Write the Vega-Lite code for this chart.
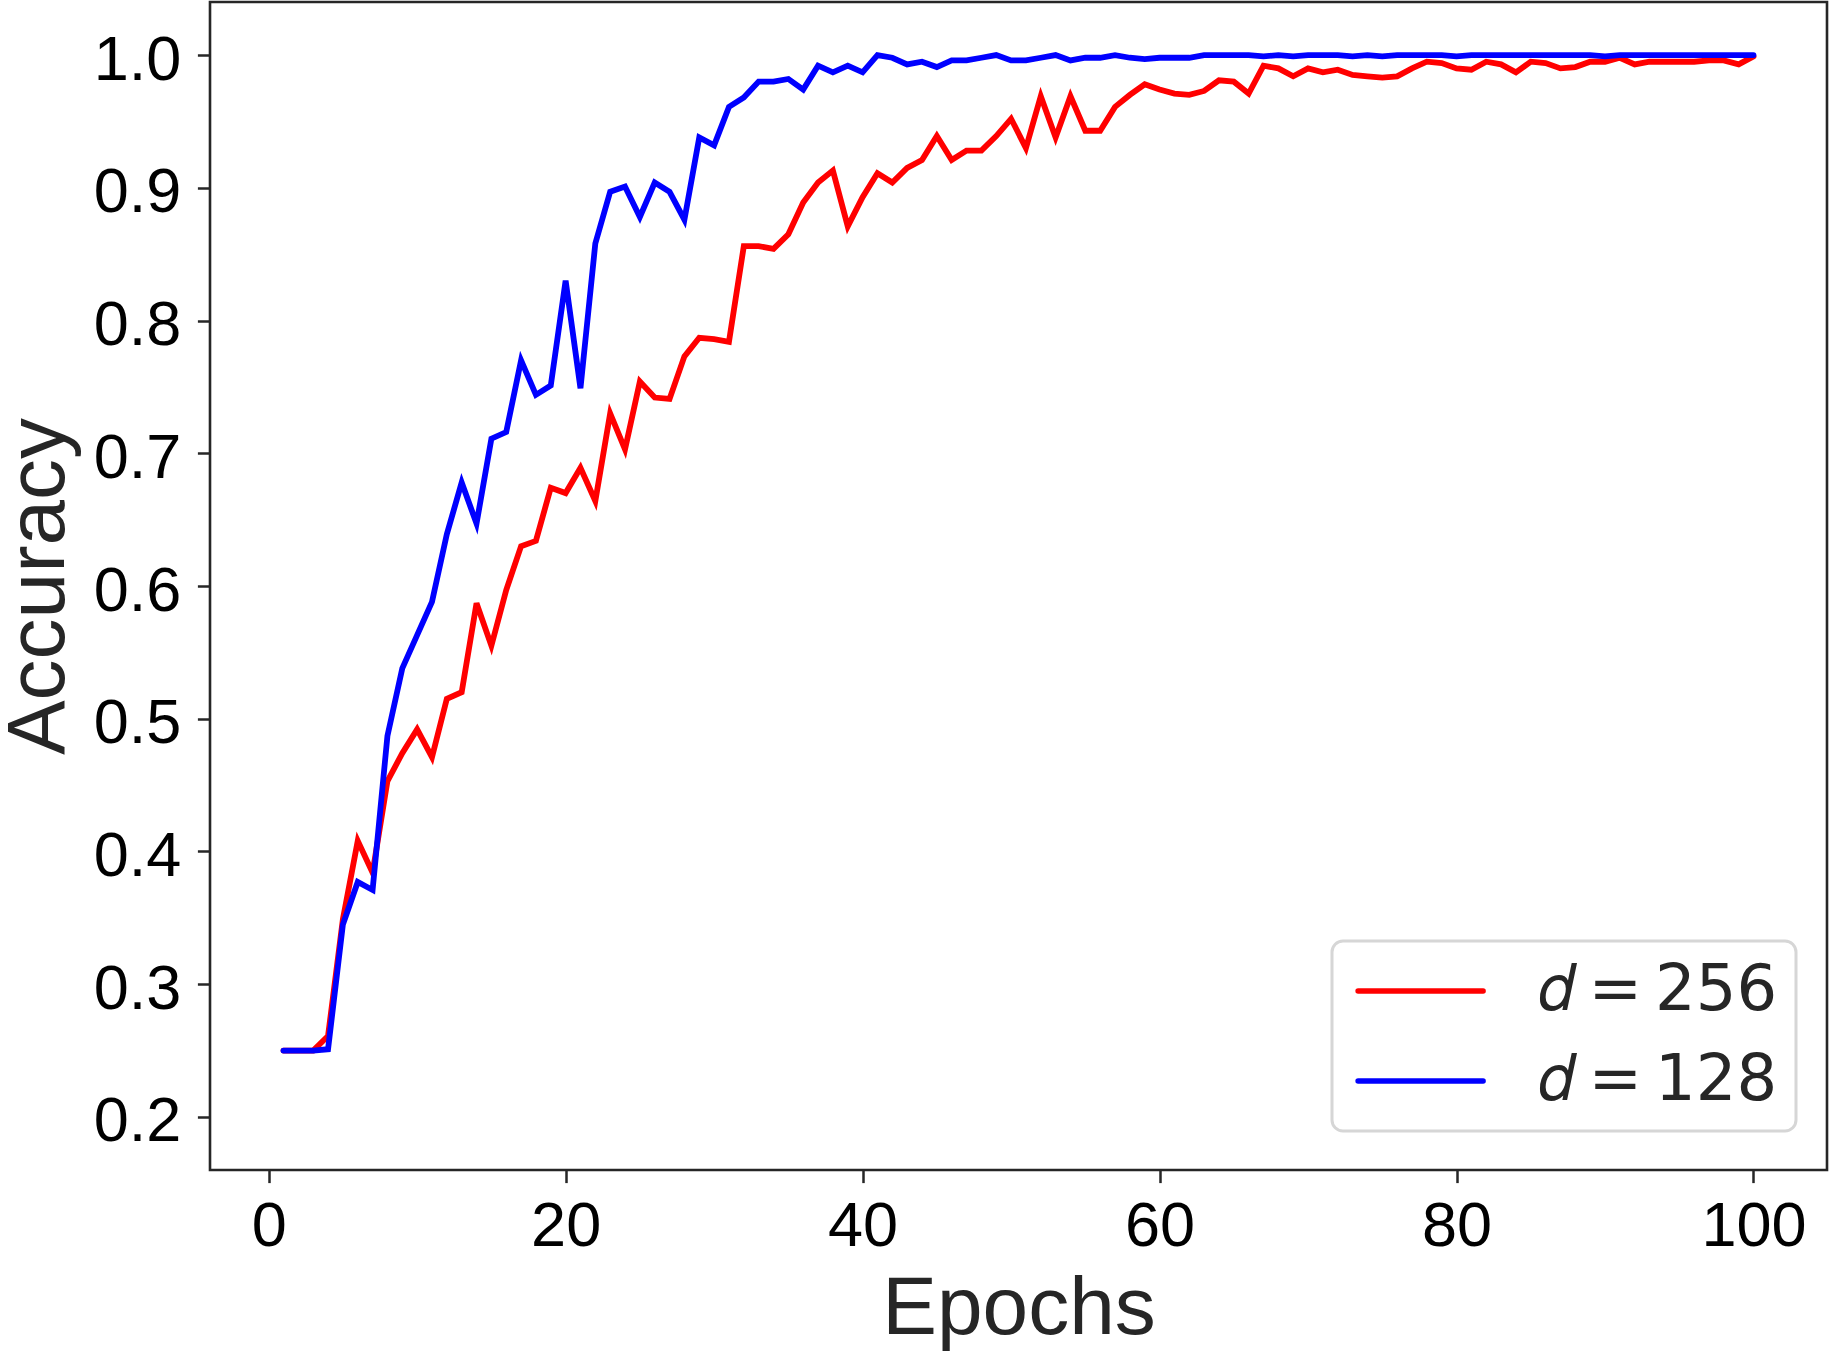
{
  "$schema": "https://vega.github.io/schema/vega-lite/v6.json",
  "width": 1617,
  "height": 1168,
  "autosize": {"type": "none"},
  "padding": {"left": 210, "top": 2, "right": 4, "bottom": 181},
  "background": "#ffffff",
  "data": {
    "values": [
      {"epoch": 1, "model": "𝑑\u2009=\u2009256", "accuracy": 0.250},
      {"epoch": 2, "model": "𝑑\u2009=\u2009256", "accuracy": 0.250},
      {"epoch": 3, "model": "𝑑\u2009=\u2009256", "accuracy": 0.250},
      {"epoch": 4, "model": "𝑑\u2009=\u2009256", "accuracy": 0.261},
      {"epoch": 5, "model": "𝑑\u2009=\u2009256", "accuracy": 0.349},
      {"epoch": 6, "model": "𝑑\u2009=\u2009256", "accuracy": 0.408},
      {"epoch": 7, "model": "𝑑\u2009=\u2009256", "accuracy": 0.384},
      {"epoch": 8, "model": "𝑑\u2009=\u2009256", "accuracy": 0.453},
      {"epoch": 9, "model": "𝑑\u2009=\u2009256", "accuracy": 0.474},
      {"epoch": 10, "model": "𝑑\u2009=\u2009256", "accuracy": 0.492},
      {"epoch": 11, "model": "𝑑\u2009=\u2009256", "accuracy": 0.471},
      {"epoch": 12, "model": "𝑑\u2009=\u2009256", "accuracy": 0.515},
      {"epoch": 13, "model": "𝑑\u2009=\u2009256", "accuracy": 0.520},
      {"epoch": 14, "model": "𝑑\u2009=\u2009256", "accuracy": 0.587},
      {"epoch": 15, "model": "𝑑\u2009=\u2009256", "accuracy": 0.555},
      {"epoch": 16, "model": "𝑑\u2009=\u2009256", "accuracy": 0.597},
      {"epoch": 17, "model": "𝑑\u2009=\u2009256", "accuracy": 0.630},
      {"epoch": 18, "model": "𝑑\u2009=\u2009256", "accuracy": 0.634},
      {"epoch": 19, "model": "𝑑\u2009=\u2009256", "accuracy": 0.674},
      {"epoch": 20, "model": "𝑑\u2009=\u2009256", "accuracy": 0.670},
      {"epoch": 21, "model": "𝑑\u2009=\u2009256", "accuracy": 0.689},
      {"epoch": 22, "model": "𝑑\u2009=\u2009256", "accuracy": 0.664},
      {"epoch": 23, "model": "𝑑\u2009=\u2009256", "accuracy": 0.730},
      {"epoch": 24, "model": "𝑑\u2009=\u2009256", "accuracy": 0.703},
      {"epoch": 25, "model": "𝑑\u2009=\u2009256", "accuracy": 0.754},
      {"epoch": 26, "model": "𝑑\u2009=\u2009256", "accuracy": 0.742},
      {"epoch": 27, "model": "𝑑\u2009=\u2009256", "accuracy": 0.741},
      {"epoch": 28, "model": "𝑑\u2009=\u2009256", "accuracy": 0.773},
      {"epoch": 29, "model": "𝑑\u2009=\u2009256", "accuracy": 0.787},
      {"epoch": 30, "model": "𝑑\u2009=\u2009256", "accuracy": 0.786},
      {"epoch": 31, "model": "𝑑\u2009=\u2009256", "accuracy": 0.784},
      {"epoch": 32, "model": "𝑑\u2009=\u2009256", "accuracy": 0.856},
      {"epoch": 33, "model": "𝑑\u2009=\u2009256", "accuracy": 0.856},
      {"epoch": 34, "model": "𝑑\u2009=\u2009256", "accuracy": 0.854},
      {"epoch": 35, "model": "𝑑\u2009=\u2009256", "accuracy": 0.865},
      {"epoch": 36, "model": "𝑑\u2009=\u2009256", "accuracy": 0.889},
      {"epoch": 37, "model": "𝑑\u2009=\u2009256", "accuracy": 0.904},
      {"epoch": 38, "model": "𝑑\u2009=\u2009256", "accuracy": 0.913},
      {"epoch": 39, "model": "𝑑\u2009=\u2009256", "accuracy": 0.871},
      {"epoch": 40, "model": "𝑑\u2009=\u2009256", "accuracy": 0.893},
      {"epoch": 41, "model": "𝑑\u2009=\u2009256", "accuracy": 0.911},
      {"epoch": 42, "model": "𝑑\u2009=\u2009256", "accuracy": 0.904},
      {"epoch": 43, "model": "𝑑\u2009=\u2009256", "accuracy": 0.915},
      {"epoch": 44, "model": "𝑑\u2009=\u2009256", "accuracy": 0.921},
      {"epoch": 45, "model": "𝑑\u2009=\u2009256", "accuracy": 0.939},
      {"epoch": 46, "model": "𝑑\u2009=\u2009256", "accuracy": 0.921},
      {"epoch": 47, "model": "𝑑\u2009=\u2009256", "accuracy": 0.928},
      {"epoch": 48, "model": "𝑑\u2009=\u2009256", "accuracy": 0.928},
      {"epoch": 49, "model": "𝑑\u2009=\u2009256", "accuracy": 0.939},
      {"epoch": 50, "model": "𝑑\u2009=\u2009256", "accuracy": 0.952},
      {"epoch": 51, "model": "𝑑\u2009=\u2009256", "accuracy": 0.930},
      {"epoch": 52, "model": "𝑑\u2009=\u2009256", "accuracy": 0.969},
      {"epoch": 53, "model": "𝑑\u2009=\u2009256", "accuracy": 0.938},
      {"epoch": 54, "model": "𝑑\u2009=\u2009256", "accuracy": 0.969},
      {"epoch": 55, "model": "𝑑\u2009=\u2009256", "accuracy": 0.943},
      {"epoch": 56, "model": "𝑑\u2009=\u2009256", "accuracy": 0.943},
      {"epoch": 57, "model": "𝑑\u2009=\u2009256", "accuracy": 0.961},
      {"epoch": 58, "model": "𝑑\u2009=\u2009256", "accuracy": 0.970},
      {"epoch": 59, "model": "𝑑\u2009=\u2009256", "accuracy": 0.978},
      {"epoch": 60, "model": "𝑑\u2009=\u2009256", "accuracy": 0.974},
      {"epoch": 61, "model": "𝑑\u2009=\u2009256", "accuracy": 0.971},
      {"epoch": 62, "model": "𝑑\u2009=\u2009256", "accuracy": 0.970},
      {"epoch": 63, "model": "𝑑\u2009=\u2009256", "accuracy": 0.973},
      {"epoch": 64, "model": "𝑑\u2009=\u2009256", "accuracy": 0.981},
      {"epoch": 65, "model": "𝑑\u2009=\u2009256", "accuracy": 0.980},
      {"epoch": 66, "model": "𝑑\u2009=\u2009256", "accuracy": 0.971},
      {"epoch": 67, "model": "𝑑\u2009=\u2009256", "accuracy": 0.992},
      {"epoch": 68, "model": "𝑑\u2009=\u2009256", "accuracy": 0.990},
      {"epoch": 69, "model": "𝑑\u2009=\u2009256", "accuracy": 0.984},
      {"epoch": 70, "model": "𝑑\u2009=\u2009256", "accuracy": 0.990},
      {"epoch": 71, "model": "𝑑\u2009=\u2009256", "accuracy": 0.987},
      {"epoch": 72, "model": "𝑑\u2009=\u2009256", "accuracy": 0.989},
      {"epoch": 73, "model": "𝑑\u2009=\u2009256", "accuracy": 0.985},
      {"epoch": 74, "model": "𝑑\u2009=\u2009256", "accuracy": 0.984},
      {"epoch": 75, "model": "𝑑\u2009=\u2009256", "accuracy": 0.983},
      {"epoch": 76, "model": "𝑑\u2009=\u2009256", "accuracy": 0.984},
      {"epoch": 77, "model": "𝑑\u2009=\u2009256", "accuracy": 0.990},
      {"epoch": 78, "model": "𝑑\u2009=\u2009256", "accuracy": 0.995},
      {"epoch": 79, "model": "𝑑\u2009=\u2009256", "accuracy": 0.994},
      {"epoch": 80, "model": "𝑑\u2009=\u2009256", "accuracy": 0.990},
      {"epoch": 81, "model": "𝑑\u2009=\u2009256", "accuracy": 0.989},
      {"epoch": 82, "model": "𝑑\u2009=\u2009256", "accuracy": 0.995},
      {"epoch": 83, "model": "𝑑\u2009=\u2009256", "accuracy": 0.993},
      {"epoch": 84, "model": "𝑑\u2009=\u2009256", "accuracy": 0.987},
      {"epoch": 85, "model": "𝑑\u2009=\u2009256", "accuracy": 0.995},
      {"epoch": 86, "model": "𝑑\u2009=\u2009256", "accuracy": 0.994},
      {"epoch": 87, "model": "𝑑\u2009=\u2009256", "accuracy": 0.990},
      {"epoch": 88, "model": "𝑑\u2009=\u2009256", "accuracy": 0.991},
      {"epoch": 89, "model": "𝑑\u2009=\u2009256", "accuracy": 0.995},
      {"epoch": 90, "model": "𝑑\u2009=\u2009256", "accuracy": 0.995},
      {"epoch": 91, "model": "𝑑\u2009=\u2009256", "accuracy": 0.998},
      {"epoch": 92, "model": "𝑑\u2009=\u2009256", "accuracy": 0.993},
      {"epoch": 93, "model": "𝑑\u2009=\u2009256", "accuracy": 0.995},
      {"epoch": 94, "model": "𝑑\u2009=\u2009256", "accuracy": 0.995},
      {"epoch": 95, "model": "𝑑\u2009=\u2009256", "accuracy": 0.995},
      {"epoch": 96, "model": "𝑑\u2009=\u2009256", "accuracy": 0.995},
      {"epoch": 97, "model": "𝑑\u2009=\u2009256", "accuracy": 0.996},
      {"epoch": 98, "model": "𝑑\u2009=\u2009256", "accuracy": 0.996},
      {"epoch": 99, "model": "𝑑\u2009=\u2009256", "accuracy": 0.993},
      {"epoch": 100, "model": "𝑑\u2009=\u2009256", "accuracy": 0.999},
      {"epoch": 1, "model": "𝑑\u2009=\u2009128", "accuracy": 0.250},
      {"epoch": 2, "model": "𝑑\u2009=\u2009128", "accuracy": 0.250},
      {"epoch": 3, "model": "𝑑\u2009=\u2009128", "accuracy": 0.250},
      {"epoch": 4, "model": "𝑑\u2009=\u2009128", "accuracy": 0.251},
      {"epoch": 5, "model": "𝑑\u2009=\u2009128", "accuracy": 0.345},
      {"epoch": 6, "model": "𝑑\u2009=\u2009128", "accuracy": 0.377},
      {"epoch": 7, "model": "𝑑\u2009=\u2009128", "accuracy": 0.371},
      {"epoch": 8, "model": "𝑑\u2009=\u2009128", "accuracy": 0.487},
      {"epoch": 9, "model": "𝑑\u2009=\u2009128", "accuracy": 0.538},
      {"epoch": 10, "model": "𝑑\u2009=\u2009128", "accuracy": 0.563},
      {"epoch": 11, "model": "𝑑\u2009=\u2009128", "accuracy": 0.588},
      {"epoch": 12, "model": "𝑑\u2009=\u2009128", "accuracy": 0.639},
      {"epoch": 13, "model": "𝑑\u2009=\u2009128", "accuracy": 0.678},
      {"epoch": 14, "model": "𝑑\u2009=\u2009128", "accuracy": 0.647},
      {"epoch": 15, "model": "𝑑\u2009=\u2009128", "accuracy": 0.711},
      {"epoch": 16, "model": "𝑑\u2009=\u2009128", "accuracy": 0.716},
      {"epoch": 17, "model": "𝑑\u2009=\u2009128", "accuracy": 0.770},
      {"epoch": 18, "model": "𝑑\u2009=\u2009128", "accuracy": 0.744},
      {"epoch": 19, "model": "𝑑\u2009=\u2009128", "accuracy": 0.751},
      {"epoch": 20, "model": "𝑑\u2009=\u2009128", "accuracy": 0.830},
      {"epoch": 21, "model": "𝑑\u2009=\u2009128", "accuracy": 0.749},
      {"epoch": 22, "model": "𝑑\u2009=\u2009128", "accuracy": 0.858},
      {"epoch": 23, "model": "𝑑\u2009=\u2009128", "accuracy": 0.897},
      {"epoch": 24, "model": "𝑑\u2009=\u2009128", "accuracy": 0.901},
      {"epoch": 25, "model": "𝑑\u2009=\u2009128", "accuracy": 0.878},
      {"epoch": 26, "model": "𝑑\u2009=\u2009128", "accuracy": 0.904},
      {"epoch": 27, "model": "𝑑\u2009=\u2009128", "accuracy": 0.897},
      {"epoch": 28, "model": "𝑑\u2009=\u2009128", "accuracy": 0.876},
      {"epoch": 29, "model": "𝑑\u2009=\u2009128", "accuracy": 0.938},
      {"epoch": 30, "model": "𝑑\u2009=\u2009128", "accuracy": 0.932},
      {"epoch": 31, "model": "𝑑\u2009=\u2009128", "accuracy": 0.961},
      {"epoch": 32, "model": "𝑑\u2009=\u2009128", "accuracy": 0.968},
      {"epoch": 33, "model": "𝑑\u2009=\u2009128", "accuracy": 0.980},
      {"epoch": 34, "model": "𝑑\u2009=\u2009128", "accuracy": 0.980},
      {"epoch": 35, "model": "𝑑\u2009=\u2009128", "accuracy": 0.982},
      {"epoch": 36, "model": "𝑑\u2009=\u2009128", "accuracy": 0.974},
      {"epoch": 37, "model": "𝑑\u2009=\u2009128", "accuracy": 0.992},
      {"epoch": 38, "model": "𝑑\u2009=\u2009128", "accuracy": 0.987},
      {"epoch": 39, "model": "𝑑\u2009=\u2009128", "accuracy": 0.992},
      {"epoch": 40, "model": "𝑑\u2009=\u2009128", "accuracy": 0.987},
      {"epoch": 41, "model": "𝑑\u2009=\u2009128", "accuracy": 1.000},
      {"epoch": 42, "model": "𝑑\u2009=\u2009128", "accuracy": 0.998},
      {"epoch": 43, "model": "𝑑\u2009=\u2009128", "accuracy": 0.993},
      {"epoch": 44, "model": "𝑑\u2009=\u2009128", "accuracy": 0.995},
      {"epoch": 45, "model": "𝑑\u2009=\u2009128", "accuracy": 0.991},
      {"epoch": 46, "model": "𝑑\u2009=\u2009128", "accuracy": 0.996},
      {"epoch": 47, "model": "𝑑\u2009=\u2009128", "accuracy": 0.996},
      {"epoch": 48, "model": "𝑑\u2009=\u2009128", "accuracy": 0.998},
      {"epoch": 49, "model": "𝑑\u2009=\u2009128", "accuracy": 1.000},
      {"epoch": 50, "model": "𝑑\u2009=\u2009128", "accuracy": 0.996},
      {"epoch": 51, "model": "𝑑\u2009=\u2009128", "accuracy": 0.996},
      {"epoch": 52, "model": "𝑑\u2009=\u2009128", "accuracy": 0.998},
      {"epoch": 53, "model": "𝑑\u2009=\u2009128", "accuracy": 1.000},
      {"epoch": 54, "model": "𝑑\u2009=\u2009128", "accuracy": 0.996},
      {"epoch": 55, "model": "𝑑\u2009=\u2009128", "accuracy": 0.998},
      {"epoch": 56, "model": "𝑑\u2009=\u2009128", "accuracy": 0.998},
      {"epoch": 57, "model": "𝑑\u2009=\u2009128", "accuracy": 1.000},
      {"epoch": 58, "model": "𝑑\u2009=\u2009128", "accuracy": 0.998},
      {"epoch": 59, "model": "𝑑\u2009=\u2009128", "accuracy": 0.997},
      {"epoch": 60, "model": "𝑑\u2009=\u2009128", "accuracy": 0.998},
      {"epoch": 61, "model": "𝑑\u2009=\u2009128", "accuracy": 0.998},
      {"epoch": 62, "model": "𝑑\u2009=\u2009128", "accuracy": 0.998},
      {"epoch": 63, "model": "𝑑\u2009=\u2009128", "accuracy": 1.000},
      {"epoch": 64, "model": "𝑑\u2009=\u2009128", "accuracy": 1.000},
      {"epoch": 65, "model": "𝑑\u2009=\u2009128", "accuracy": 1.000},
      {"epoch": 66, "model": "𝑑\u2009=\u2009128", "accuracy": 1.000},
      {"epoch": 67, "model": "𝑑\u2009=\u2009128", "accuracy": 0.999},
      {"epoch": 68, "model": "𝑑\u2009=\u2009128", "accuracy": 1.000},
      {"epoch": 69, "model": "𝑑\u2009=\u2009128", "accuracy": 0.999},
      {"epoch": 70, "model": "𝑑\u2009=\u2009128", "accuracy": 1.000},
      {"epoch": 71, "model": "𝑑\u2009=\u2009128", "accuracy": 1.000},
      {"epoch": 72, "model": "𝑑\u2009=\u2009128", "accuracy": 1.000},
      {"epoch": 73, "model": "𝑑\u2009=\u2009128", "accuracy": 0.999},
      {"epoch": 74, "model": "𝑑\u2009=\u2009128", "accuracy": 1.000},
      {"epoch": 75, "model": "𝑑\u2009=\u2009128", "accuracy": 0.999},
      {"epoch": 76, "model": "𝑑\u2009=\u2009128", "accuracy": 1.000},
      {"epoch": 77, "model": "𝑑\u2009=\u2009128", "accuracy": 1.000},
      {"epoch": 78, "model": "𝑑\u2009=\u2009128", "accuracy": 1.000},
      {"epoch": 79, "model": "𝑑\u2009=\u2009128", "accuracy": 1.000},
      {"epoch": 80, "model": "𝑑\u2009=\u2009128", "accuracy": 0.999},
      {"epoch": 81, "model": "𝑑\u2009=\u2009128", "accuracy": 1.000},
      {"epoch": 82, "model": "𝑑\u2009=\u2009128", "accuracy": 1.000},
      {"epoch": 83, "model": "𝑑\u2009=\u2009128", "accuracy": 1.000},
      {"epoch": 84, "model": "𝑑\u2009=\u2009128", "accuracy": 1.000},
      {"epoch": 85, "model": "𝑑\u2009=\u2009128", "accuracy": 1.000},
      {"epoch": 86, "model": "𝑑\u2009=\u2009128", "accuracy": 1.000},
      {"epoch": 87, "model": "𝑑\u2009=\u2009128", "accuracy": 1.000},
      {"epoch": 88, "model": "𝑑\u2009=\u2009128", "accuracy": 1.000},
      {"epoch": 89, "model": "𝑑\u2009=\u2009128", "accuracy": 1.000},
      {"epoch": 90, "model": "𝑑\u2009=\u2009128", "accuracy": 0.999},
      {"epoch": 91, "model": "𝑑\u2009=\u2009128", "accuracy": 1.000},
      {"epoch": 92, "model": "𝑑\u2009=\u2009128", "accuracy": 1.000},
      {"epoch": 93, "model": "𝑑\u2009=\u2009128", "accuracy": 1.000},
      {"epoch": 94, "model": "𝑑\u2009=\u2009128", "accuracy": 1.000},
      {"epoch": 95, "model": "𝑑\u2009=\u2009128", "accuracy": 1.000},
      {"epoch": 96, "model": "𝑑\u2009=\u2009128", "accuracy": 1.000},
      {"epoch": 97, "model": "𝑑\u2009=\u2009128", "accuracy": 1.000},
      {"epoch": 98, "model": "𝑑\u2009=\u2009128", "accuracy": 1.000},
      {"epoch": 99, "model": "𝑑\u2009=\u2009128", "accuracy": 1.000},
      {"epoch": 100, "model": "𝑑\u2009=\u2009128", "accuracy": 1.000}
    ]
  },
  "encoding": {
    "x": {
      "field": "epoch",
      "type": "quantitative",
      "title": "Epochs",
      "scale": {"domain": [-3.95, 104.95], "nice": false, "zero": false},
      "axis": {
        "values": [0, 20, 40, 60, 80, 100],
        "labelPadding": 12.7,
        "titlePadding": 10,
        "labelFlush": false,
        "labelOverlap": false
      }
    },
    "y": {
      "field": "accuracy",
      "type": "quantitative",
      "title": "Accuracy",
      "scale": {"domain": [0.16, 1.04], "nice": false, "zero": false},
      "axis": {
        "values": [0.2, 0.3, 0.4, 0.5, 0.6, 0.7, 0.8, 0.9, 1.0],
        "format": ".1f",
        "labelPadding": 16.5,
        "labelOffset": 5,
        "titlePadding": 13,
        "labelFlush": false,
        "labelOverlap": false
      }
    },
    "color": {
      "field": "model",
      "type": "nominal",
      "scale": {"domain": ["𝑑\u2009=\u2009256", "𝑑\u2009=\u2009128"], "range": ["#ff0000", "#0000ff"]},
      "legend": {
        "title": null,
        "orient": "none",
        "legendX": 1122,
        "legendY": 939,
        "symbolType": "M-1.53,0H6.47",
        "symbolSize": 976.5625,
        "symbolStrokeWidth": 5.5,
        "labelOffset": 124.75,
        "rowPadding": 26,
        "labelFont": "DejaVu Sans",
        "labelFontSize": 64,
        "labelColor": "#262626",
        "labelLimit": 1000,
        "padding": 18,
        "cornerRadius": 11,
        "fillColor": "#ffffff",
        "strokeColor": "#d6d6d6",
        "encode": {"symbols": {"update": {"strokeCap": {"value": "round"}}}}
      }
    }
  },
  "layer": [
    {
      "transform": [{"filter": {"field": "model", "equal": "𝑑\u2009=\u2009256"}}],
      "mark": {"type": "line", "strokeWidth": 5.8, "strokeCap": "round", "strokeJoin": "miter"}
    },
    {
      "transform": [{"filter": {"field": "model", "equal": "𝑑\u2009=\u2009128"}}],
      "mark": {"type": "line", "strokeWidth": 5.8, "strokeCap": "round", "strokeJoin": "miter"}
    }
  ],
  "config": {
    "view": {"stroke": "#262626", "strokeWidth": 2.6},
    "legend": {"strokeWidth": 3},
    "axis": {
      "grid": false,
      "domain": false,
      "ticks": true,
      "tickColor": "#262626",
      "tickWidth": 2.5,
      "tickSize": 12.6,
      "labelFont": "Liberation Sans",
      "labelFontSize": 63,
      "labelColor": "#000000",
      "titleFont": "Liberation Sans",
      "titleFontSize": 82,
      "titleFontWeight": "normal",
      "titleColor": "#262626"
    }
  }
}
